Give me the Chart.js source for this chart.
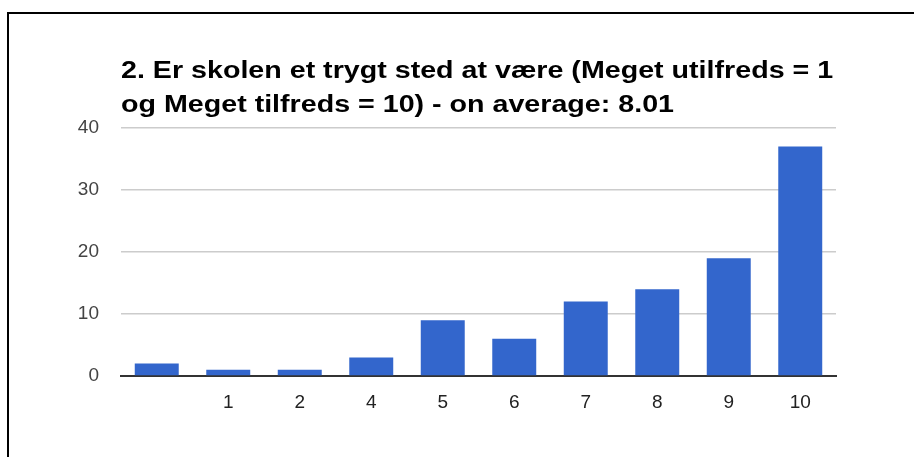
<!DOCTYPE html>
<html>
<head>
<meta charset="utf-8">
<script src="https://cdn.jsdelivr.net/npm/chart.js@4"></script>
<style>
  html, body { margin: 0; padding: 0; background: #fff; }
  .wrap { position: relative; width: 914px; height: 457px; overflow: hidden; }
  .frame { position: absolute; left: 7px; top: 12px; right: -10px; bottom: -10px;
           border-left: 2px solid #000; border-top: 2px solid #000; }
  .title { position: absolute; left: 121px; top: 53px; margin: 0;
           font: bold 23px "Liberation Sans", Arial, sans-serif; line-height: 34px; color: #000;
           white-space: nowrap; transform: scaleX(1.245); transform-origin: left top; }
  canvas { position: absolute; left: 0; top: 0; }
</style>
</head>
<body>
<div class="wrap">
  <div class="frame"></div>
  <canvas id="chart" width="914" height="457"></canvas>
  <h2 class="title">2. Er skolen et trygt sted at være (Meget utilfreds = 1<br>og Meget tilfreds = 10) - on average: 8.01</h2>
</div>
<script>
'use strict';

// svar-kategorier og antal
const ratings = ['', '1', '2', '4', '5', '6', '7', '8', '9', '10'];
const counts = [2, 1, 1, 3, 9, 6, 12, 14, 19, 37];
const yTicks = [0, 10, 20, 30, 40];

const tickFont = { family: '"Liberation Sans", Arial, sans-serif', size: 19 };

new Chart(document.getElementById('chart'), {
  type: 'bar',
  data: {
    labels: ratings,
    datasets: [{
      data: counts,
      backgroundColor: '#3366cc',
      categoryPercentage: 1,
      barPercentage: 0.615
    }]
  },
  options: {
    responsive: false,
    animation: false,
    layout: { padding: { top: 128, right: 78, bottom: 0, left: 0 } },
    plugins: {
      legend: { display: false },
      title: { display: false },
      tooltip: { enabled: false }
    },
    scales: {
      x: {
        grid: { display: false, drawTicks: false },
        border: { display: true, color: '#333', width: 2 },
        ticks: { color: '#222', font: tickFont, padding: 15, maxRotation: 0, autoSkip: false },
        afterFit: (scale) => { scale.height = 81; }
      },
      y: {
        min: yTicks[0],
        max: yTicks[yTicks.length - 1],
        grid: { color: '#cccccc', lineWidth: 1.5, drawTicks: false },
        border: { display: false },
        ticks: { stepSize: 10, color: '#444', font: tickFont, padding: 22 },
        afterFit: (scale) => { scale.width = 121; }
      }
    }
  }
});
</script>
</body>
</html>
